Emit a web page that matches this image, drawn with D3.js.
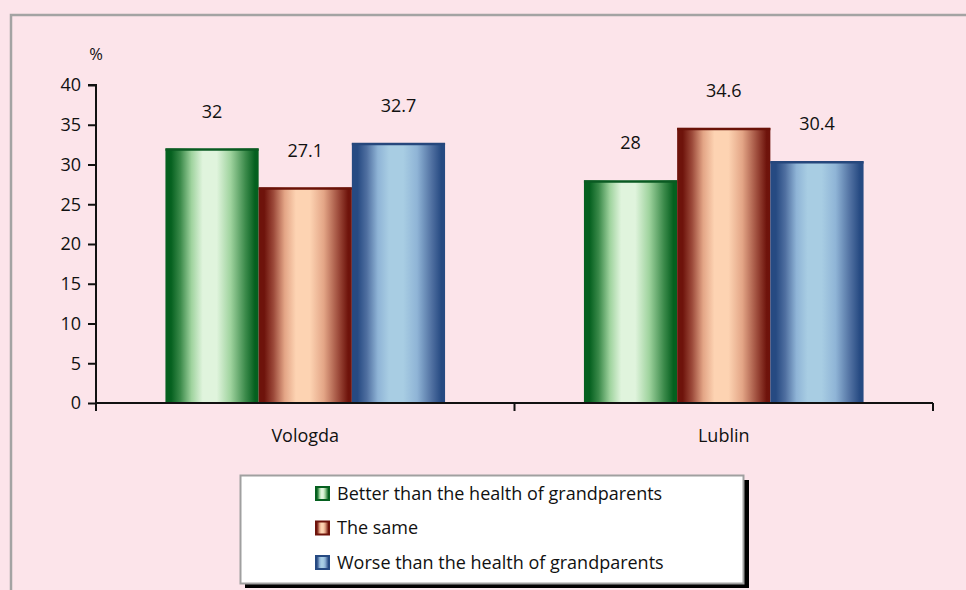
<!DOCTYPE html>
<html><head><meta charset="utf-8">
<script src="https://cdn.jsdelivr.net/npm/d3@7"></script>
<style>
html,body{margin:0;padding:0;background:#fce4ea;}
svg{display:block;}
text{font-family:"Open Sans",Lato,sans-serif;fill:#111;}
</style></head>
<body>
<svg id="chart" width="966" height="590"></svg>
<script>
const categories = ["Vologda", "Lublin"];
const seriesNames = ["Better than the health of grandparents", "The same", "Worse than the health of grandparents"];
const better = [32, 28];
const same = [27.1, 34.6];
const worse = [32.7, 30.4];
const yTicks = [0, 5, 10, 15, 20, 25, 30, 35, 40];

const seriesValues = [better, same, worse];
const palettes = [
  {edge:"#05601f", mid:"#e0f4dd", mid2:"#9fd39e", dark2:"#3b8a4a", top:"#0a5a22"},
  {edge:"#6e130b", mid:"#fdd3b2", mid2:"#e3a586", dark2:"#9c4a3a", top:"#6a1208"},
  {edge:"#264a82", mid:"#a8cde3", mid2:"#8fb4d6", dark2:"#4f6fa0", top:"#26477c"}
];

const svg = d3.select("#chart");
const W = 966, H = 590;
const m = {left:96, right:33, top:85, bottom:187};
const plotW = W - m.left - m.right;
const plotH = H - m.top - m.bottom;
const FS = 18;

// outer frame
svg.append("rect").attr("x",11).attr("y",15).attr("width",W+20).attr("height",H+20)
  .attr("fill","#fce4ea").attr("stroke","#a3a3a3").attr("stroke-width",2.5);

const defs = svg.append("defs");
palettes.forEach((p,i)=>{
  const g = defs.append("linearGradient").attr("id","grad"+i).attr("x1","0").attr("x2","1").attr("y1","0").attr("y2","0");
  [[0,p.edge],[6,p.edge],[16,p.dark2],[28,p.mid2],[40,p.mid],[55,p.mid],[70,p.mid2],[86,p.dark2],[96,p.edge],[100,p.edge]]
    .forEach(([o,c])=>g.append("stop").attr("offset",o+"%").attr("stop-color",c));
});

const x0 = d3.scaleBand().domain(categories).range([0, plotW]).paddingInner(0).paddingOuter(0);
const x1 = d3.scaleBand().domain(d3.range(seriesNames.length)).range([0, x0.bandwidth()]).paddingOuter(0.745).paddingInner(0);
const y = d3.scaleLinear().domain([0,40]).range([plotH,0]);

const g = svg.append("g").attr("transform",`translate(${m.left},${m.top})`);

// bars
categories.forEach((c,ci)=>{
  const grp = g.append("g").attr("transform",`translate(${x0(c)},0)`);
  seriesValues.forEach((vals,si)=>{
    const v = vals[ci];
    const bx = x1(si), bw = x1.bandwidth();
    grp.append("rect").attr("x",bx).attr("y",y(v)).attr("width",bw).attr("height",plotH-y(v))
      .attr("fill",`url(#grad${si})`);
    grp.append("line").attr("x1",bx).attr("x2",bx+bw).attr("y1",y(v)+1).attr("y2",y(v)+1)
      .attr("stroke",palettes[si].top).attr("stroke-width",2.5);
    grp.append("text").attr("x",bx+bw/2).attr("y",y(v)-31)
      .attr("text-anchor","middle").attr("font-size",FS).text(v);
  });
});

// y axis
const yAxis = d3.axisLeft(y).tickValues(yTicks).tickSize(8).tickPadding(7);
const ya = g.append("g").call(yAxis);
ya.select(".domain").attr("stroke","#111").attr("stroke-width",2).attr("d",`M-8,0H0V${plotH}`);
ya.selectAll(".tick line").attr("stroke","#111").attr("stroke-width",2);
ya.selectAll(".tick text").attr("font-size",FS).attr("font-family","'Open Sans',Lato,sans-serif").attr("fill","#111");

// x axis
const xa = g.append("g").attr("transform",`translate(0,${plotH})`);
xa.append("line").attr("x1",0).attr("x2",plotW).attr("y1",0).attr("y2",0).attr("stroke","#111").attr("stroke-width",2);
[0, x0.bandwidth(), plotW].forEach(t=>{
  xa.append("line").attr("x1",t).attr("x2",t).attr("y1",0).attr("y2",8).attr("stroke","#111").attr("stroke-width",2);
});
categories.forEach(c=>{
  xa.append("text").attr("x",x0(c)+x0.bandwidth()/2).attr("y",39).attr("text-anchor","middle").attr("font-size",FS).text(c);
});

// % label
svg.append("text").attr("x",96).attr("y",60).attr("text-anchor","middle").attr("font-size",16.5).text("%");

// legend
const lg = svg.append("g");
lg.append("rect").attr("x",245).attr("y",480).attr("width",504).attr("height",108).attr("fill","#000");
lg.append("rect").attr("x",240.5).attr("y",475.5).attr("width",503).attr("height",108).attr("fill","#fff").attr("stroke","#a0a0a0").attr("stroke-width",2);
seriesNames.forEach((s,i)=>{
  const yy = 493 + i*34.5;
  lg.append("rect").attr("x",316).attr("y",yy-6).attr("width",13).attr("height",13)
    .attr("fill",`url(#grad${i})`).attr("stroke",palettes[i].edge).attr("stroke-width",2);
  lg.append("text").attr("x",337).attr("y",yy+6.5).attr("font-size",FS).text(s);
});
</script>
</body></html>
